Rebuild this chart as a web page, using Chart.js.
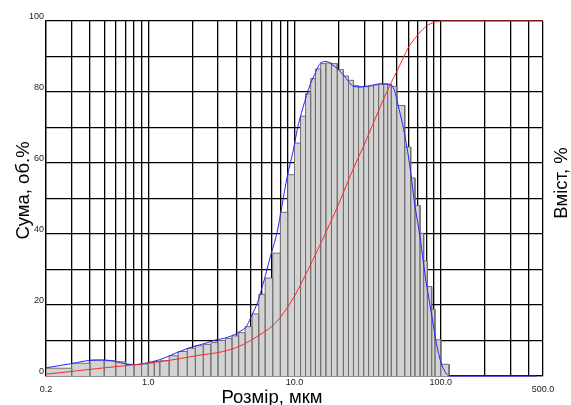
<!DOCTYPE html>
<html lang="uk">
<head>
<meta charset="UTF-8">
<title>Розподіл частинок за розміром</title>
<script src="https://cdn.jsdelivr.net/npm/chart.js"></script>
<style>
    html, body { margin: 0; padding: 0; background: #fff; }
    .chart-box { position: relative; width: 571px; height: 405px; }
</style>
</head>
<body>
<div class="chart-box"><canvas id="psdChart"></canvas></div>
<script>
    const FONT = '"Liberation Sans", Arial, sans-serif';

    // межі класів гістограми, мкм
    const binEdges = [0.2, 0.3, 0.4, 0.5, 0.6, 0.7, 0.8, 0.9, 1.0,
        1.1, 1.2, 1.39, 1.6, 1.85, 2.1, 2.38, 2.68, 3.0, 3.37, 3.74, 4.15, 4.6, 5.13, 5.7, 6.3, 7.1, 8.0, 9.0, 10.0,
        11.0, 11.9, 12.9, 13.9, 15.1, 16.4, 17.9, 19.6, 21.6, 23.4, 25.3, 27.4, 29.7, 32.1, 34.7, 37.6, 40.7, 43.3, 45.9, 50.0,
        56.7, 62.3, 66.6, 72.1, 76.4, 81.0, 86.7, 91.3, 100, 114];
    // вміст у класі, %
    const binValues = [2.2, 3.6, 4.5, 4.3, 4.0, 3.3, 3.2, 3.4,
        3.7, 4.1, 4.3, 5.7, 6.9, 7.8, 8.5, 8.9, 9.4, 10.0, 10.6, 11.3, 12.2, 13.9, 17.5, 23.0, 27.6, 34.6, 46.1, 56.7,
        65.6, 73.2, 79.5, 83.8, 86.5, 88.0, 88.2, 88.0, 86.3, 84.5, 83.3, 81.8, 81.5, 81.5, 81.7, 82.0, 82.2, 82.3, 82.2, 81.6,
        76.2, 64.5, 55.8, 48.0, 40.2, 32.4, 25.2, 18.8, 10.2, 3.3];

    // вміст (синя крива)
    const distSize = [0.2, 0.3, 0.4, 0.5, 0.6, 0.7, 0.8, 0.9, 1.0, 1.2, 1.4, 1.64, 2.0, 2.5, 2.8, 3.5, 4.3, 4.7, 5.0,
        5.5, 5.85, 6.85, 7.6, 8.9, 9.8, 10.5, 11.4, 12.8, 13.9, 15.1, 16.6, 17.8, 20, 22.2, 25.3, 28, 33, 38.5, 45,
        48, 52, 57, 62, 66, 70.7, 75, 79, 84, 88, 93.4, 100, 107, 115, 450];
    const distValue = [2.3, 3.5, 4.4, 4.5, 4.1, 3.4, 3.2, 3.4, 3.8, 4.6, 5.7, 6.9, 8.2, 9.3, 10.0, 10.9, 12.7, 14.0, 16.3,
        20.0, 23.3, 33.7, 40.5, 56.0, 63.5, 69.9, 75.5, 82.1, 85.4, 88.2, 88.6, 87.9, 86.3, 84.2, 81.6, 81.4, 81.8, 82.3, 82.1,
        80.7, 75.0, 67.5, 58.0, 49.0, 41.5, 34.0, 27.1, 20.5, 15.5, 9.2, 4.0, 1.2, 0, 0];

    // сума (червона крива)
    const sumSize = [0.2, 0.3, 0.45, 0.7, 1.0, 1.6, 2.26, 3.0, 4.0, 5.0, 6.0, 7.0, 8.0, 9.0, 10.0, 12.4, 14.2, 16.2,
        20.6, 25, 30, 38.7, 45, 50.8, 60, 70, 80, 90, 100, 500];
    const sumValue = [0.5, 1.3, 2.1, 2.9, 3.6, 4.8, 5.9, 6.6, 8.0, 10.0, 12.0, 14.0, 16.5, 19.5, 22.5, 30, 35, 40,
        49.6, 58, 65.2, 76, 82, 86.3, 92.5, 96.2, 98.6, 99.6, 100, 100];

    // лінії сітки та підписи осі розміру
    const sizeGrid = [0.2, 0.3, 0.4, 0.5, 0.6, 0.7, 0.8, 0.9, 1, 2, 3, 4, 5, 6, 7, 8, 9,
        10, 20, 30, 40, 50, 60, 70, 80, 90, 100, 200, 300, 400, 500];
    const sizeLabels = [0.2, 1, 10, 100, 500];
    const lowLabels = [0.2, 500];

    // гістограма як ступінчастий контур: кожен стовпчик з вертикальними краями
    const histPoints = [];
    binValues.forEach((v, i) => {
        histPoints.push({x: binEdges[i], y: 0}, {x: binEdges[i], y: v},
                        {x: binEdges[i + 1], y: v}, {x: binEdges[i + 1], y: 0});
    });

    const topCurves = [0, 1];

    // криві малюються поверх сітки
    const curveLayer = {
        id: 'curveLayer',
        beforeDatasetDraw(chart, args) {
            if (topCurves.includes(args.index)) return false;
        },
        afterDraw(chart) {
            topCurves.forEach(i => chart.getDatasetMeta(i).controller.draw());
        }
    };

    const axisTitles = {
        id: 'axisTitles',
        afterDraw(chart) {
            const ctx = chart.ctx;
            ctx.save();
            ctx.fillStyle = '#000';
            ctx.font = '18.5px ' + FONT;
            ctx.textAlign = 'center';
            ctx.textBaseline = 'alphabetic';
            ctx.fillText('Розмір, мкм', 272, 402.5);

            ctx.translate(28.5, 190.5);
            ctx.rotate(-Math.PI / 2);
            ctx.fillText('Сума, об.%', 0, 0);
            ctx.restore();

            ctx.save();
            ctx.fillStyle = '#000';
            ctx.font = '18.5px ' + FONT;
            ctx.textAlign = 'center';
            ctx.textBaseline = 'alphabetic';
            ctx.translate(566.5, 183);
            ctx.rotate(-Math.PI / 2);
            ctx.fillText('Вміст, %', 0, 0);
            ctx.restore();
        }
    };

    new Chart(document.getElementById('psdChart'), {
        type: 'line',
        data: {
            datasets: [{
                label: 'Вміст',
                data: distSize.map((s, i) => ({x: s, y: distValue[i]})),
                borderColor: 'rgb(35,35,255)',
                borderWidth: 1,
                pointRadius: 0,
                fill: false,
                cubicInterpolationMode: 'monotone'
            }, {
                label: 'Сума',
                data: sumSize.map((s, i) => ({x: s, y: sumValue[i]})),
                borderColor: 'rgb(255,40,40)',
                borderWidth: 1,
                pointRadius: 0,
                fill: false,
                cubicInterpolationMode: 'monotone'
            }, {
                label: 'Гістограма',
                data: histPoints,
                borderColor: '#707070',
                backgroundColor: '#d3d3d3',
                borderWidth: 1,
                pointRadius: 0,
                tension: 0,
                fill: 'origin'
            }]
        },
        options: {
            responsive: true,
            maintainAspectRatio: false,
            animation: false,
            layout: { padding: { top: 21, right: 28, bottom: 0, left: 0 } },
            plugins: {
                legend: { display: false },
                tooltip: { enabled: false }
            },
            scales: {
                x: {
                    type: 'logarithmic',
                    min: 0.2,
                    max: 500,
                    z: 1,
                    afterFit: s => { s.height = 29; },
                    afterBuildTicks: s => { s.ticks = sizeGrid.map(v => ({value: v})); },
                    ticks: {
                        autoSkip: false,
                        maxRotation: 0,
                        padding: 1,
                        color: '#222',
                        font: c => ({
                            size: 9,
                            family: FONT,
                            lineHeight: c.tick && lowLabels.includes(c.tick.value) ? '25px' : 1.2
                        }),
                        callback: v => sizeLabels.includes(v) ? v.toFixed(1) : ''
                    },
                    grid: { color: '#000', lineWidth: 1.3, drawTicks: false },
                    border: { color: '#000', width: 1.3 }
                },
                y: {
                    min: 0,
                    max: 100,
                    z: 1,
                    afterFit: s => { s.width = 46; },
                    ticks: {
                        stepSize: 10,
                        padding: 2,
                        labelOffset: -4,
                        color: '#222',
                        font: { size: 9, family: FONT },
                        callback: v => v % 20 === 0 ? String(v) : ''
                    },
                    grid: { color: '#000', lineWidth: 1.3, drawTicks: false },
                    border: { color: '#000', width: 1.3 }
                }
            }
        },
        plugins: [curveLayer, axisTitles]
    });
</script>
</body>
</html>
